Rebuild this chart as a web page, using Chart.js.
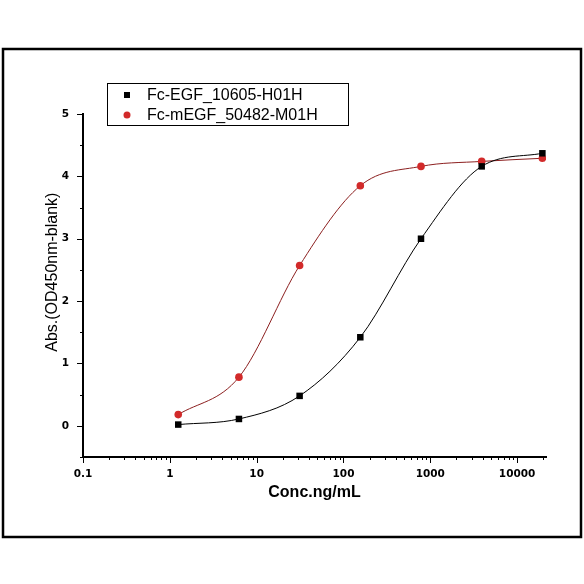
<!DOCTYPE html>
<html lang="en">
<head>
  <meta charset="UTF-8"/>
  <title>Fc-EGF ELISA</title>
  <script src="https://cdn.jsdelivr.net/npm/chart.js"></script>
  <style>
    html, body { margin: 0; padding: 0; background: #fff; }
    #wrap { width: 584px; height: 584px; }
  </style>
</head>
<body>
  <div id="wrap"><canvas id="chart" width="584" height="584"></canvas></div>

  <script>
    // data (ng/mL, OD450 - blank)
    const concentrations = [1.25, 6.25, 31.25, 156.25, 781.25, 3906.25, 19531.25];
    const egfValues  = [0.02, 0.11, 0.48, 1.42, 3.00, 4.16, 4.37];
    const megfValues = [0.18, 0.78, 2.57, 3.85, 4.16, 4.24, 4.29];
    const seriesLabels = ['Fc-EGF_10605-H01H', 'Fc-mEGF_50482-M01H'];
    const xTickValues = [0.1, 1, 10, 100, 1000, 10000];
    const yTickValues = [0, 1, 2, 3, 4, 5];

    const tickFont = { family: 'DejaVu Sans', weight: 'bold', size: 10.5 };

    function toPoints(ys) {
      return concentrations.map((c, i) => ({ x: c, y: ys[i] }));
    }

    // outer frame + white page
    const framePlugin = {
      id: 'frame',
      beforeDraw(chart) {
        const ctx = chart.ctx;
        ctx.save();
        ctx.fillStyle = '#fff';
        ctx.fillRect(0, 0, chart.width, chart.height);
        ctx.strokeStyle = '#000';
        ctx.lineWidth = 2.5;
        ctx.strokeRect(3, 49, 578, 488);
        ctx.restore();
      }
    };

    // major / minor tick marks
    const tickMarks = {
      id: 'tickMarks',
      afterDraw(chart) {
        const ctx = chart.ctx, xs = chart.scales.x, ys = chart.scales.y;
        ctx.save();
        ctx.strokeStyle = '#000';
        ctx.lineWidth = 1;
        ctx.beginPath();
        for (let e = -1; e <= 4; e++) {
          for (let k = 1; k <= 9; k++) {
            const v = k * Math.pow(10, e);
            if (v > xs.max) break;
            const px = Math.round(xs.getPixelForValue(v)) + 0.5;
            const len = k === 1 ? 6 : 3;
            ctx.moveTo(px, xs.top);
            ctx.lineTo(px, xs.top + len);
          }
        }
        for (let v = -0.5; v <= 5; v += 0.5) {
          const py = Math.round(ys.getPixelForValue(v)) + 0.5;
          const len = Number.isInteger(v) ? 6 : 3;
          ctx.moveTo(ys.right, py);
          ctx.lineTo(ys.right - len, py);
        }
        ctx.stroke();
        ctx.restore();
      }
    };

    // boxed legend inside the plot
    const boxLegend = {
      id: 'boxLegend',
      afterDraw(chart) {
        const ctx = chart.ctx;
        ctx.save();
        ctx.strokeStyle = '#000';
        ctx.lineWidth = 1;
        ctx.strokeRect(107.5, 83.5, 241, 42);
        ctx.font = '16px "Liberation Sans", Arial, sans-serif';
        ctx.textBaseline = 'middle';
        chart.data.datasets.forEach((ds, i) => {
          const y = 95 + i * 20;
          ctx.fillStyle = ds.pointBackgroundColor;
          if (ds.pointStyle === 'rect') {
            ctx.fillRect(124, y - 3, 6, 6);
          } else {
            ctx.beginPath();
            ctx.arc(127, y, 3.5, 0, Math.PI * 2);
            ctx.fill();
          }
          ctx.fillStyle = '#000';
          ctx.fillText(ds.label, 147, y + 1);
        });
        ctx.restore();
      }
    };

    window.onload = function () {
      const ctx = document.getElementById('chart').getContext('2d');
      new Chart(ctx, {
        type: 'scatter',
        data: {
          datasets: [
            {
              label: seriesLabels[0],
              data: toPoints(egfValues),
              showLine: true,
              cubicInterpolationMode: 'monotone',
              borderColor: '#000',
              borderWidth: 1,
              pointStyle: 'rect',
              pointRadius: 4.6,
              pointBackgroundColor: '#000',
              pointBorderColor: '#000',
              pointBorderWidth: 0
            },
            {
              label: seriesLabels[1],
              data: toPoints(megfValues),
              showLine: true,
              cubicInterpolationMode: 'monotone',
              borderColor: '#8c1f1f',
              borderWidth: 1,
              pointStyle: 'circle',
              pointRadius: 3.8,
              pointBackgroundColor: '#d22a2a',
              pointBorderColor: '#d22a2a',
              pointBorderWidth: 0
            }
          ]
        },
        options: {
          responsive: false,
          animation: false,
          layout: { padding: { top: 114, right: 38, bottom: 0, left: 0 } },
          plugins: { legend: { display: false }, tooltip: { enabled: false } },
          scales: {
            x: {
              type: 'logarithmic',
              position: 'bottom',
              min: 0.1,
              max: 21500,
              afterBuildTicks: s => { s.ticks = xTickValues.map(v => ({ value: v })); },
              afterFit: s => { s.height = 127; },
              grid: { display: false, drawTicks: false },
              border: { display: true, color: '#000', width: 2 },
              ticks: {
                color: '#000',
                font: tickFont,
                padding: 11,
                maxRotation: 0,
                autoSkip: false,
                callback: v => (v < 1 ? '0.1' : String(v))
              },
              title: {
                display: true,
                text: 'Conc.ng/mL',
                color: '#000',
                font: { family: 'Liberation Sans', weight: 'bold', size: 16 },
                padding: { top: 0, bottom: 82 }
              }
            },
            y: {
              min: -0.5,
              max: 5,
              afterBuildTicks: s => { s.ticks = yTickValues.map(v => ({ value: v })); },
              afterFit: s => { s.width = 83; },
              grid: { display: false, drawTicks: false },
              border: { display: true, color: '#000', width: 2 },
              ticks: { color: '#000', font: tickFont, padding: 14 },
              title: {
                display: true,
                text: '      Abs.(OD450nm-blank)',
                color: '#000',
                font: { family: 'Liberation Sans', size: 16 },
                padding: { top: 43, bottom: 0 }
              }
            }
          }
        },
        plugins: [framePlugin, tickMarks, boxLegend]
      });
    };
  </script>
</body>
</html>
